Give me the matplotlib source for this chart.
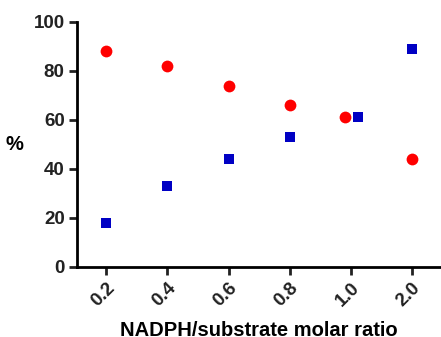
import matplotlib
matplotlib.use("Agg")
import matplotlib.pyplot as plt
import numpy as np

plt.rcParams['font.family'] = ['Liberation Sans', 'DejaVu Sans']
plt.rcParams['font.weight'] = 'bold'

ratios = ['0.2', '0.4', '0.6', '0.8', '1.0', '2.0']
red_vals = [88, 82, 74, 66, 61, 44]
blue_vals = [18, 33, 44, 53, 61, 89]
# little horizontal nudge where the two points would overlap
red_shift = [0, 0, 0, 0, -0.1, 0]
blue_shift = [0, 0, 0, 0, 0.12, 0]

pos = np.arange(len(ratios))

fig = plt.figure(figsize=(4.41, 3.37), dpi=100)
ax = fig.add_axes([0.175, 0.208, 0.825, 0.727])

ax.scatter(pos + np.array(red_shift), red_vals, s=72, marker='o', color='#ff0000', zorder=3, linewidths=0)
ax.scatter(pos + np.array(blue_shift), blue_vals, s=62, marker='s', color='#0000c4', zorder=3, linewidths=0)

ax.set_xlim(-0.475, 5.475)
ax.set_ylim(0, 100)
ax.set_yticks(range(0, 101, 20))
ax.set_xticks(pos)
ax.set_xticklabels(ratios, rotation=45, ha='right', rotation_mode='anchor')

for s in ['top', 'right']:
    ax.spines[s].set_visible(False)
for s in ['left', 'bottom']:
    ax.spines[s].set_linewidth(2)
ax.tick_params(width=2, length=6, labelsize=13.5, colors='#222222', pad=3)

ax.set_ylabel('%', rotation=0, fontsize=14.5, fontweight='bold', labelpad=14, va='center')
ax.set_xlabel('NADPH/substrate molar ratio', fontsize=14.5, fontweight='bold', labelpad=8)

fig.savefig('out.png', dpi=100)
